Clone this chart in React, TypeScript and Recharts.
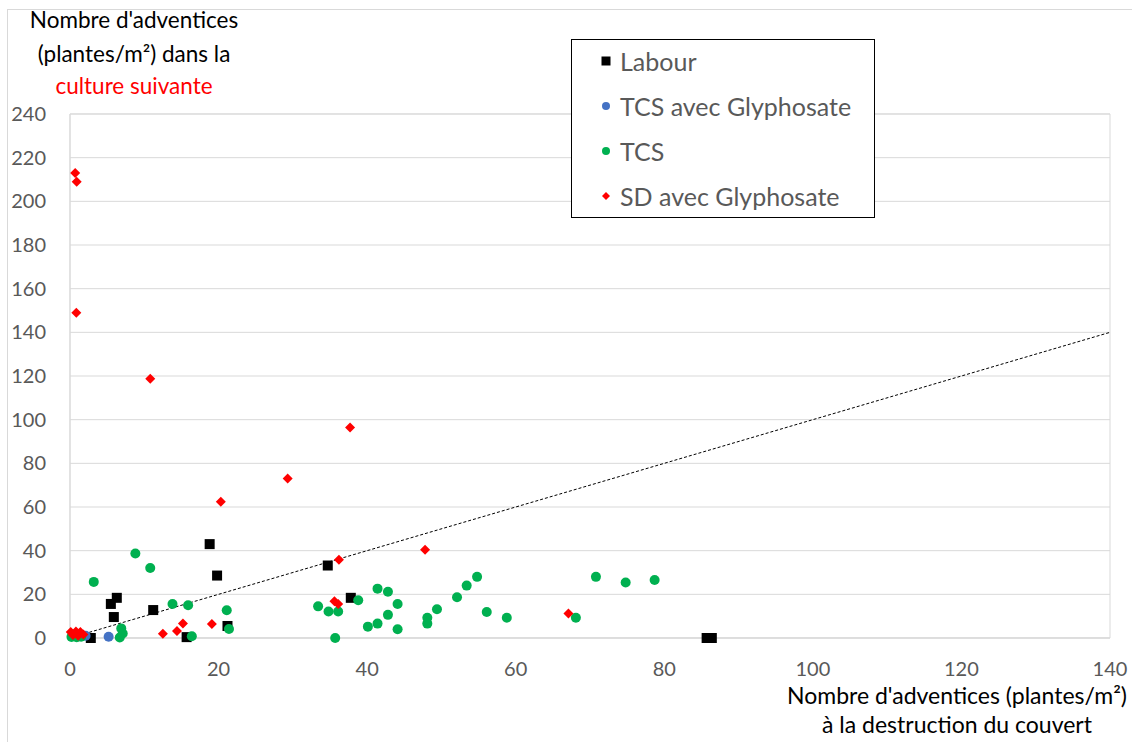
import { ScatterChart, Scatter, XAxis, YAxis, CartesianGrid, ReferenceLine, ReferenceArea, Legend } from "recharts"

// Labour
const labour = [
  { x: 2.8, y: 0 }, { x: 5.5, y: 15.6 }, { x: 5.9, y: 9.6 }, { x: 6.3, y: 18.4 },
  { x: 11.2, y: 12.8 }, { x: 15.7, y: 0.4 }, { x: 18.8, y: 43 }, { x: 19.8, y: 28.6 },
  { x: 21.2, y: 5.5 }, { x: 34.7, y: 33.2 }, { x: 37.8, y: 18.4 }, { x: 85.7, y: 0 }, { x: 86.4, y: 0 },
]

// TCS avec Glyphosate
const tcsGlypho = [{ x: 2.1, y: 1 }, { x: 5.2, y: 0.6 }]

// TCS
const tcs = [
  { x: 0.2, y: 0.5 }, { x: 0.9, y: 0.4 }, { x: 1.5, y: 0.6 }, { x: 3.2, y: 25.7 }, { x: 6.7, y: 0.2 },
  { x: 6.9, y: 4.4 }, { x: 7.1, y: 2.1 }, { x: 8.8, y: 38.7 }, { x: 10.8, y: 32.1 }, { x: 13.8, y: 15.6 },
  { x: 15.9, y: 15 }, { x: 16.4, y: 0.8 }, { x: 21.1, y: 12.7 }, { x: 21.4, y: 4.1 }, { x: 33.4, y: 14.5 },
  { x: 34.8, y: 12.1 }, { x: 35.7, y: 0 }, { x: 36.1, y: 12.1 }, { x: 38.8, y: 17.3 }, { x: 40.1, y: 5.2 },
  { x: 41.4, y: 22.6 }, { x: 41.4, y: 6.6 }, { x: 42.8, y: 21.2 }, { x: 42.8, y: 10.6 }, { x: 44.1, y: 15.6 },
  { x: 44.1, y: 4 }, { x: 48.1, y: 9.3 }, { x: 48.1, y: 6.6 }, { x: 49.4, y: 13.2 }, { x: 52.1, y: 18.7 },
  { x: 53.4, y: 24 }, { x: 54.8, y: 28 }, { x: 56.1, y: 11.9 }, { x: 58.8, y: 9.3 }, { x: 68.1, y: 9.3 },
  { x: 70.8, y: 28 }, { x: 74.8, y: 25.4 }, { x: 78.7, y: 26.6 },
]

// SD avec Glyphosate
const sdGlypho = [
  { x: 0.1, y: 2.8 }, { x: 0.4, y: 1.4 }, { x: 0.8, y: 3 }, { x: 1.1, y: 1 }, { x: 1.4, y: 2.8 },
  { x: 1.8, y: 1.6 }, { x: 0.7, y: 213 }, { x: 0.9, y: 209 }, { x: 0.85, y: 149 }, { x: 10.8, y: 118.7 },
  { x: 12.5, y: 2 }, { x: 14.4, y: 3.2 }, { x: 15.2, y: 6.6 }, { x: 19.1, y: 6.4 }, { x: 20.3, y: 62.4 },
  { x: 29.3, y: 73 }, { x: 35.6, y: 16.8 }, { x: 36.1, y: 15.6 }, { x: 36.2, y: 35.8 }, { x: 37.7, y: 96.4 },
  { x: 47.8, y: 40.4 }, { x: 67.1, y: 11.2 },
]

// linear trend line
const trend = [{ x: 0, y: 0 }, { x: 140, y: 140 }]

const seriesNames = ["Labour", "TCS avec Glyphosate", "TCS", "SD avec Glyphosate"]
const xTicks = [0, 20, 40, 60, 80, 100, 120, 140]
const yTicks = [0, 20, 40, 60, 80, 100, 120, 140, 160, 180, 200, 220, 240]

const FONT = "Lato, 'Open Sans', sans-serif"
const GRID = "#d9d9d9"
const TEXT = "#595959"

const marker = (type: string, color: string, cx: number, cy: number, r: number) => {
  if (type === "square") return <rect x={cx - r} y={cy - r} width={r * 2} height={r * 2} fill={color} />
  if (type === "diamond")
    return <polygon points={`${cx},${cy - r} ${cx + r},${cy} ${cx},${cy + r} ${cx - r},${cy}`} fill={color} />
  return <circle cx={cx} cy={cy} r={r} fill={color} />
}

const shapeOf = (type: string, color: string, r: number) => (p: any) => marker(type, color, p.cx, p.cy, r)

const LegendBox = ({ payload }: any) => {
  const items = [...(payload || [])].sort((a: any, b: any) => seriesNames.indexOf(a.value) - seriesNames.indexOf(b.value))
  return (
    <div style={{ width: 302, height: 177, border: "1px solid #000", background: "#fff", fontFamily: FONT }}>
      <div style={{ height: 0 }} />
      {items.map((e: any) => (
        <div key={e.value} style={{ position: "relative", height: 45, top: -2, display: "flex", alignItems: "center" }}>
          <svg width={12} height={12} style={{ position: "absolute", left: 28 }}>
            {marker(e.type, e.color, 6, 6, e.type === "square" ? 4.5 : 4)}
          </svg>
          <span style={{ position: "absolute", left: 48, fontSize: 25, color: TEXT }}>{e.value}</span>
        </div>
      ))}
    </div>
  )
}

const App = () => {
  return (
    <div style={{ position: "absolute", left: 0, top: 0, width: 1132, height: 742, background: "#fff", fontFamily: FONT }}>
      <div style={{ position: "absolute", left: 7, top: 9, width: 1125, height: 733, borderLeft: `1px solid ${GRID}`, borderTop: `1px solid ${GRID}` }} />
      <ScatterChart width={1132} height={742} margin={{ top: 114, right: 22, bottom: 74, left: 0 }}>
        <CartesianGrid vertical={false} stroke={GRID} />
        <ReferenceArea x1={0} x2={140} y1={0} y2={240} fill="none" stroke={GRID} />
        <XAxis
          type="number" dataKey="x" domain={[0, 140]} ticks={xTicks} height={30}
          axisLine={{ stroke: GRID }} tickLine={false} tickMargin={18}
          tick={{ fill: TEXT, fontSize: 20, fontFamily: FONT }}
        />
        <YAxis
          type="number" dataKey="y" domain={[0, 240]} ticks={yTicks} width={70}
          axisLine={{ stroke: GRID }} tickLine={false} tickMargin={18}
          tick={{ fill: TEXT, fontSize: 20, fontFamily: FONT }}
        />
        <Legend
          layout="vertical" align="center" verticalAlign="middle" content={LegendBox}
          wrapperStyle={{ left: 571, top: 39, width: 304, height: 179 }}
        />
        <Scatter name="Labour" data={labour} legendType="square" fill="#000000" shape={shapeOf("square", "#000000", 5)} isAnimationActive={false} />
        <Scatter name="TCS avec Glyphosate" data={tcsGlypho} legendType="circle" fill="#4472c4" shape={shapeOf("circle", "#4472c4", 5)} isAnimationActive={false} />
        <Scatter name="TCS" data={tcs} legendType="circle" fill="#00b050" shape={shapeOf("circle", "#00b050", 5)} isAnimationActive={false} />
        <Scatter name="SD avec Glyphosate" data={sdGlypho} legendType="diamond" fill="#ff0000" shape={shapeOf("diamond", "#ff0000", 5)} isAnimationActive={false} />
        <ReferenceLine segment={trend} stroke="#000" strokeWidth={1} strokeDasharray="3 2" />
      </ScatterChart>
      <div style={{ position: "absolute", left: 14, top: 3, width: 240, textAlign: "center", fontSize: 22.5, lineHeight: "34px", color: "#000" }}>
        <div>Nombre d'adventices</div>
        <div>(plantes/m²) dans la</div>
        <div style={{ color: "#ff0000", marginTop: -2 }}>culture suivante</div>
      </div>
      <div style={{ position: "absolute", left: 737, top: 681, width: 440, textAlign: "center", fontSize: 23, lineHeight: "29px", color: "#000" }}>
        <div>Nombre d'adventices (plantes/m²)</div>
        <div>à la destruction du couvert</div>
      </div>
    </div>
  )
}

export default App
